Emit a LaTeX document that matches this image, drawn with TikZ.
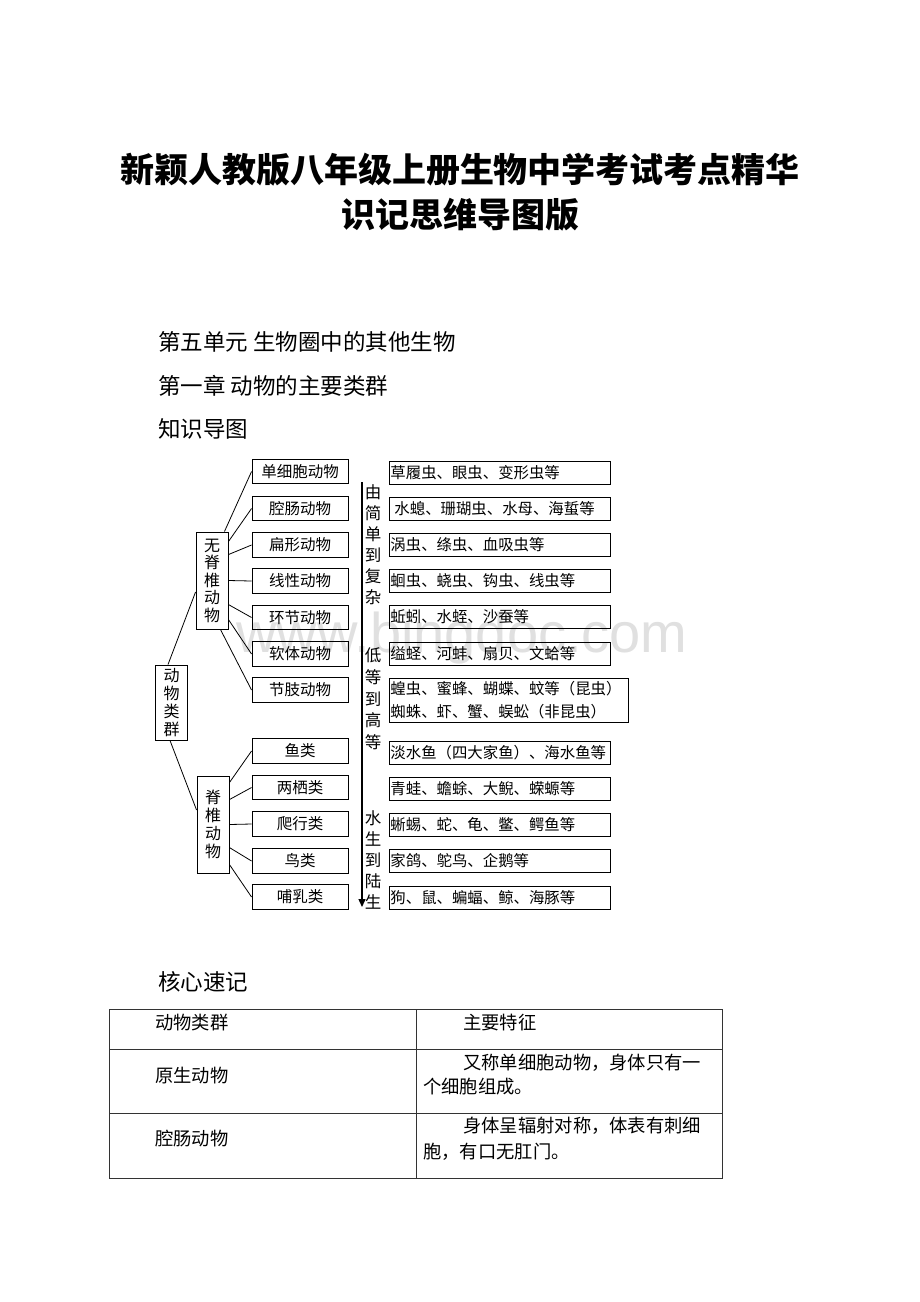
\documentclass[tikz,border=0pt]{standalone}
\usepackage{fontspec}
\setmainfont{Noto Sans CJK SC}
\newfontfamily\wmfont{Liberation Sans}
\usetikzlibrary{arrows.meta}
\tikzset{
  box/.style={draw, line width=0.9pt, inner sep=0pt},
  catbox/.style={box, minimum width=96pt, minimum height=24.5pt, font=\fontsize{15.5}{15.5}\selectfont},
  exbox/.style={box, anchor=west, minimum height=23pt, text width=219pt, inner xsep=1pt, align=left, font=\fontsize{15.4}{23}\selectfont},
  vbox/.style={box, minimum width=32pt, text width=16pt, align=center},
  side/.style={font=\fontsize{16.5}{21}\selectfont, align=center, text width=17pt, inner sep=0pt},
  link/.style={line width=0.8pt},
  heading/.style={anchor=west, inner sep=0pt, font=\fontsize{22.5}{22.5}\selectfont},
  cell/.style={anchor=west, inner sep=0pt, font=\fontsize{18.3}{18.3}\selectfont},
  tline/.style={line width=0.8pt, draw=black!80},
}
\begin{document}
\begin{tikzpicture}[x=1pt,y=-1pt]
\useasboundingbox[fill=white] (0,0) rectangle (920,1302);

% watermark
\node[font=\wmfont\fontsize{56}{56}\selectfont, text=black!12, anchor=base] (wm) at (462,652) {www.bingdoc.com};

% title
\node[font=\fontsize{34}{34}\selectfont\bfseries, inner sep=0pt] (t1) at (460,170) {新颖人教版八年级上册生物中学考试考点精华};
\node[font=\fontsize{34}{34}\selectfont\bfseries, inner sep=0pt] (t2) at (460,215) {识记思维导图版};

% headings
\node[heading] (h1) at (158,342) {第五单元 生物圈中的其他生物};
\node[heading] (h2) at (158,386) {第一章 动物的主要类群};
\node[heading] (h3) at (158,429) {知识导图};
\node[heading] (h4) at (158,982) {核心速记};

% main boxes
\node[vbox, minimum height=75pt, font=\fontsize{16}{18}\selectfont] (root) at (171.5,702.5) {动\\物\\类\\群};
\node[vbox, minimum height=97pt, font=\fontsize{16}{17.5}\selectfont] (inv) at (212,580.5) {无\\脊\\椎\\动\\物};
\node[vbox, minimum height=97pt, font=\fontsize{16}{18}\selectfont] (vert) at (213,824.5) {脊\\椎\\动\\物};

% category boxes
\node[catbox] (c1) at (300,471.5) {单细胞动物};
\node[catbox] (c2) at (300,508.5) {腔肠动物};
\node[catbox] (c3) at (300,545) {扁形动物};
\node[catbox] (c4) at (300,581) {线性动物};
\node[catbox] (c5) at (300,617.5) {环节动物};
\node[catbox] (c6) at (300,654) {软体动物};
\node[catbox] (c7) at (300,690) {节肢动物};
\node[catbox] (v1) at (300,751) {鱼类};
\node[catbox] (v2) at (300,787.5) {两栖类};
\node[catbox] (v3) at (300,824) {爬行类};
\node[catbox] (v4) at (300,861) {鸟类};
\node[catbox] (v5) at (300,897) {哺乳类};

% connectors
\draw[link] ([xshift=-3.5pt]root.north) -- ([yshift=-11.5pt]inv.west);
\draw[link] ([xshift=-1.5pt]root.south) -- ([yshift=14.5pt]vert.west);
\draw[link] ([xshift=-4pt]inv.north east) -- (c1.west);
\draw[link] ([yshift=-10pt]inv.north east) -- (c2.west);
\draw[link] ([yshift=-23pt]inv.north east) -- (c3.west);
\draw[link] (inv.east) -- (c4.west);
\draw[link] ([yshift=-73pt]inv.north east) -- (c5.west);
\draw[link] ([yshift=-88pt]inv.north east) -- (c6.west);
\draw[link] ([xshift=-8pt]inv.south east) -- (c7.west);
\draw[link] ([yshift=-7pt]vert.north east) -- (v1.west);
\draw[link] ([yshift=-24pt]vert.north east) -- (v2.west);
\draw[link] (vert.east) -- (v3.west);
\draw[link] ([yshift=-72pt]vert.north east) -- (v4.west);
\draw[link] ([yshift=-89pt]vert.north east) -- (v5.west);

% vertical arrow and side texts
\coordinate (atop) at (362,482);
\coordinate (abot) at (362,907);
\draw[line width=1.3pt, -{Triangle[width=7pt,length=8pt]}] (atop) -- (abot);
\node[side] (s1) at (373,544.5) {由\\简\\单\\到\\复\\杂};
\node[side, font=\fontsize{16.5}{21.7}\selectfont] (s2) at (373,699) {低\\等\\到\\高\\等};
\node[side] (s3) at (373,860) {水\\生\\到\\陆\\生};

% example boxes
\node[exbox] (e1) at (389,472.5) {草履虫、眼虫、变形虫等};
\node[exbox] (e2) at (389,509) {\hspace*{4pt}水螅、珊瑚虫、水母、海蜇等};
\node[exbox] (e3) at (389,544.5) {涡虫、绦虫、血吸虫等};
\node[exbox] (e4) at (389,580.5) {蛔虫、蛲虫、钩虫、线虫等};
\node[exbox] (e5) at (389,616.5) {蚯蚓、水蛭、沙蚕等};
\node[exbox] (e6) at (389,653.5) {缢蛏、河蚌、扇贝、文蛤等};
\node[exbox, text width=237pt, minimum height=44pt] (e7) at (389,700) {蝗虫、蜜蜂、蝴蝶、蚊等（昆虫）\\蜘蛛、虾、蟹、蜈蚣（非昆虫）};
\node[exbox] (e8) at (389,753) {淡水鱼（四大家鱼）、海水鱼等};
\node[exbox] (e9) at (389,788.5) {青蛙、蟾蜍、大鲵、蝾螈等};
\node[exbox] (e10) at (389,824.5) {蜥蜴、蛇、龟、鳖、鳄鱼等};
\node[exbox] (e11) at (389,861) {家鸽、鸵鸟、企鹅等};
\node[exbox] (e12) at (389,897.5) {狗、鼠、蝙蝠、鲸、海豚等};

% table
\draw[tline] (109,1009) rectangle (722,1178);
\draw[tline] (109,1049) -- (722,1049);
\draw[tline] (109,1113) -- (722,1113);
\draw[tline] (416,1009) -- (416,1178);
\node[cell] (k1) at (155,1023) {动物类群};
\node[cell] (k2) at (463,1023) {主要特征};
\node[cell] (k3) at (155,1076) {原生动物};
\node[cell] (k4) at (463,1063) {又称单细胞动物，身体只有一};
\node[cell] (k5) at (423,1087) {个细胞组成。};
\node[cell] (k6) at (155,1139) {腔肠动物};
\node[cell] (k7) at (463,1126) {身体呈辐射对称，体表有刺细};
\node[cell] (k8) at (423,1152) {胞，有口无肛门。};
\end{tikzpicture}
\end{document}
